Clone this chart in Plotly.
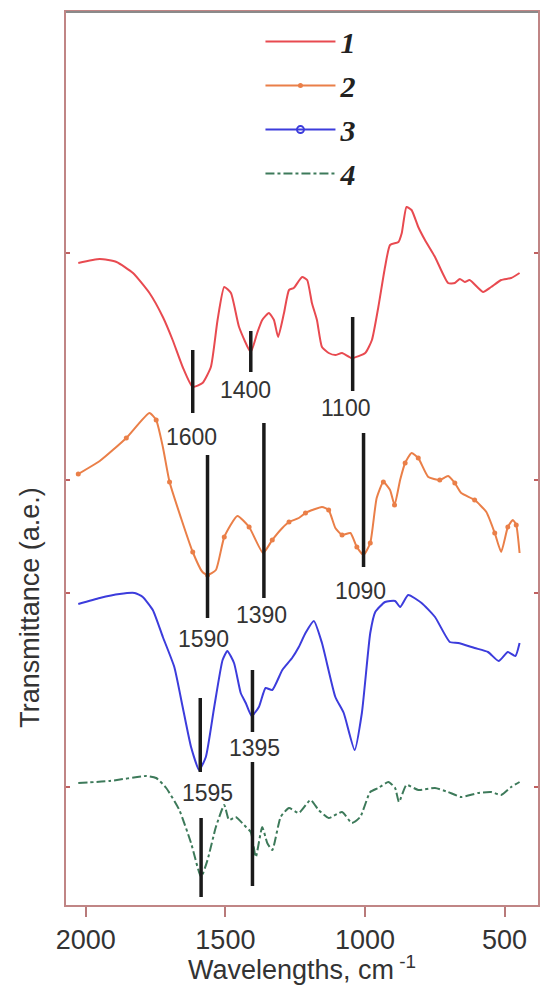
import plotly.graph_objects as go

# ---- data (wavenumber cm-1, transmittance a.u. offset) ----
wn1 = [2027, 1950, 1890, 1831, 1772, 1724, 1689, 1653, 1617, 1582, 1552, 1528, 1504, 1480, 1451, 1409, 1386, 1368, 1344, 1326, 1311, 1290, 1272, 1255, 1225, 1207, 1190, 1172, 1154, 1130, 1106, 1082, 1047, 999, 975, 952, 928, 910, 880, 868, 851, 833, 809, 785, 749, 702, 678, 660, 642, 625, 577, 548, 512, 476, 446]
t1 = [642, 646, 643, 632, 612, 588, 565, 538, 518, 522, 538, 585, 618, 612, 578, 553, 572, 585, 592, 585, 568, 592, 615, 617, 628, 625, 602, 585, 558, 552, 550, 552, 547, 552, 565, 598, 638, 660, 663, 672, 698, 695, 678, 665, 648, 622, 622, 626, 623, 625, 613, 618, 625, 627, 632]

wn2 = [2027, 1950, 1855, 1772, 1748, 1724, 1700, 1659, 1617, 1582, 1564, 1534, 1504, 1457, 1415, 1365, 1332, 1296, 1272, 1237, 1213, 1154, 1130, 1106, 1082, 1052, 1029, 1005, 981, 958, 934, 910, 894, 874, 856, 833, 809, 773, 732, 702, 678, 655, 607, 565, 535, 512, 488, 470, 458, 446]
t2 = [431, 444, 467, 492, 485, 458, 423, 387, 353, 333, 330, 335, 368, 389, 378, 352, 365, 377, 383, 387, 392, 398, 395, 377, 370, 372, 358, 350, 362, 407, 423, 415, 400, 425, 442, 452, 447, 428, 425, 429, 422, 412, 405, 393, 372, 353, 378, 385, 380, 352]

wn3 = [2027, 1950, 1879, 1825, 1796, 1760, 1724, 1683, 1653, 1623, 1594, 1570, 1540, 1510, 1493, 1469, 1445, 1427, 1406, 1380, 1356, 1332, 1296, 1261, 1237, 1213, 1183, 1154, 1106, 1076, 1037, 1011, 981, 963, 928, 892, 874, 845, 797, 749, 696, 666, 607, 559, 521, 488, 461, 446]
t3 = [301, 307, 311, 312, 308, 295, 268, 238, 198, 158, 135, 148, 198, 245, 254, 242, 212, 202, 189, 198, 217, 215, 235, 247, 258, 272, 284, 262, 208, 192, 155, 192, 272, 293, 303, 304, 298, 310, 302, 288, 263, 262, 257, 253, 244, 253, 249, 262]

wn4 = [2027, 1914, 1784, 1748, 1712, 1665, 1623, 1587, 1564, 1534, 1504, 1487, 1463, 1433, 1409, 1391, 1368, 1350, 1332, 1302, 1272, 1237, 1195, 1166, 1130, 1082, 1047, 1017, 981, 952, 916, 892, 878, 851, 809, 749, 702, 655, 595, 548, 512, 476, 446]
t4 = [122, 124, 129, 127, 117, 95, 62, 28, 45, 78, 100, 85, 88, 80, 73, 48, 78, 62, 55, 88, 97, 92, 105, 95, 87, 93, 82, 88, 113, 117, 123, 117, 103, 120, 115, 117, 113, 108, 112, 113, 110, 118, 123]

series_names = ["1", "2", "3", "4"]
series_colors = ["#e84a50", "#ea7f48", "#3c3cdc", "#3d7a5a"]

# peak marker bars: position, lower, upper
bar_wn = [1617, 1409, 1044, 1564, 1362, 1005, 1590, 1403, 1587, 1403]
bar_lo = [492, 533, 514, 287, 307, 338, 133, 173, 8, 19]
bar_hi = [555, 574, 588, 450, 482, 472, 207, 235, 87, 143]

# peak labels
lab_text = ["1600", "1400", "1100", "1590", "1390", "1090", "1595", "1395"]
lab_wn = [1623, 1427, 1070, 1577, 1370, 1015, 1564, 1397]
lab_t = [468, 515, 497, 266, 290, 314, 112, 157]

x_ticks = [2000, 1500, 1000, 500]
y_marks = [652, 425, 312, 118]


def label(i):
    return "<b><i>" + series_names[i] + "</i></b>"


fig = go.Figure()

fig.add_trace(go.Scatter(x=wn1, y=t1, mode="lines", name=label(0), legendgroup="g1",
                         line=dict(color=series_colors[0], width=2, shape="spline", smoothing=0.5)))
fig.add_trace(go.Scatter(x=wn2, y=t2, mode="lines+markers", name=label(1), legendgroup="g2",
                         line=dict(color=series_colors[1], width=2, shape="spline", smoothing=0.5),
                         marker=dict(size=5, color=series_colors[1], maxdisplayed=28)))
# series 3: curve drawn as line; legend entry shows line with open-circle marker
fig.add_trace(go.Scatter(x=wn3, y=t3, mode="lines", name=label(2), legendgroup="g3", showlegend=False,
                         line=dict(color=series_colors[2], width=2, shape="spline", smoothing=0.5)))
fig.add_trace(go.Scatter(x=[None], y=[None], mode="lines+markers", name=label(2), legendgroup="g3",
                         line=dict(color=series_colors[2], width=2),
                         marker=dict(size=7, symbol="circle-open", color=series_colors[2],
                                     line=dict(width=2))))
fig.add_trace(go.Scatter(x=wn4, y=t4, mode="lines", name=label(3), legendgroup="g4",
                         line=dict(color=series_colors[3], width=2, dash="dashdot",
                                   shape="spline", smoothing=0.5)))

for w, lo, hi in zip(bar_wn, bar_lo, bar_hi):
    fig.add_trace(go.Scatter(x=[w, w], y=[lo, hi], mode="lines", showlegend=False,
                             line=dict(color="#1a1a1a", width=3.5), hoverinfo="skip"))

for txt, w, t in zip(lab_text, lab_wn, lab_t):
    fig.add_annotation(x=w, y=t, text=txt, showarrow=False,
                       font=dict(family="Liberation Sans, Arial", size=23, color="#333333"))

fig.add_annotation(xref="paper", yref="paper", x=-0.078, y=0.333, text="Transmittance (a.e.)",
                   textangle=-90, showarrow=False, xanchor="center", yanchor="middle",
                   font=dict(family="Liberation Sans, Arial", size=27, color="#333333"))

# gray top frame line
fig.add_shape(type="line", xref="paper", yref="paper", x0=0, x1=1, y0=1, y1=1,
              line=dict(color="#8a8a8a", width=2))

fig.update_layout(
    width=542, height=985,
    margin=dict(l=66, r=2, t=12, b=80),
    plot_bgcolor="white", paper_bgcolor="white",
    font=dict(family="Liberation Sans, Arial", color="#333333"),
    showlegend=True,
    legend=dict(x=0.412, y=0.996, xanchor="left", yanchor="top",
                bgcolor="rgba(0,0,0,0)", itemwidth=70, traceorder="grouped",
                font=dict(family="Liberation Serif, Times New Roman", size=30, color="#222222"),
                tracegroupgap=2),
    xaxis=dict(range=[2071, 380], tickvals=x_ticks, ticks="outside", ticklen=10, tickwidth=2,
               tickcolor="#b87a7a", showline=True, linecolor="#c08585", linewidth=2, mirror=True,
               showgrid=False, zeroline=False,
               tickfont=dict(size=27, color="#333333"),
               title=dict(text="Wavelengths, cm<sup> -1</sup>", font=dict(size=27, color="#333333"),
                          standoff=4)),
    yaxis=dict(range=[0, 893], tickvals=y_marks, ticks="inside", ticklen=4, tickwidth=2,
               tickcolor="#c06060", showticklabels=False, showline=True, linecolor="#c08585",
               linewidth=2, mirror="ticks", showgrid=False, zeroline=False),
)

fig.write_html("out.html", config={"displayModeBar": False},
               post_script="document.body.style.margin='0';document.body.style.overflow='hidden';")
